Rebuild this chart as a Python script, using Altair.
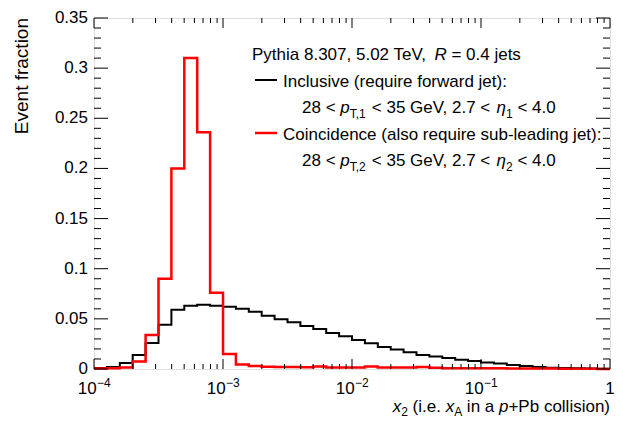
import altair as alt
import pandas as pd

FONT = "Liberation Sans"

# ---------------- data ----------------
# lower edges (log10 x2) of the 40 log-uniform bins between 1e-4 and 1
bin_lo_exp = [round(-4.0 + 0.1 * i, 1) for i in range(40)]

inclusive = [0.001, 0.002, 0.006, 0.014, 0.026, 0.044, 0.059, 0.063, 0.064, 0.063,
             0.062, 0.060, 0.057, 0.053, 0.0495, 0.0465, 0.043, 0.040, 0.036, 0.0326,
             0.0288, 0.0257, 0.022, 0.0195, 0.0167, 0.014, 0.0125, 0.011, 0.0093, 0.008,
             0.0065, 0.0055, 0.004, 0.003, 0.002, 0.0013, 0.001, 0.0007, 0.0005, 0.0003]

coincidence = [0.0005, 0.0007, 0.0015, 0.0075, 0.034, 0.090, 0.200, 0.310, 0.236, 0.076,
               0.015, 0.0045, 0.003, 0.0022, 0.002, 0.002, 0.0018, 0.0025, 0.0016, 0.0015,
               0.0015, 0.0025, 0.0015, 0.0015, 0.0015, 0.002, 0.0012, 0.0008, 0.0007, 0.0007,
               0.0008, 0.0007, 0.0005, 0.0005, 0.0005, 0.0004, 0.0003, 0.0002, 0.0002, 0.0001]

y_major = [0, 0.05, 0.1, 0.15, 0.2, 0.25, 0.3, 0.35]
y_labels = ["0", "0.05", "0.1", "0.15", "0.2", "0.25", "0.3", "0.35"]
y_minor = [round(0.01 * i, 2) for i in range(36) if i % 5]
x_major = [1e-4, 1e-3, 1e-2, 1e-1, 1.0]
x_minor = [k * 10.0 ** d for d in (-4, -3, -2, -1) for k in range(2, 10)]
x_label_pos = [1e-4, 1e-3, 1e-2, 1e-1]
x_label_exp = ["\u22124", "\u22123", "\u22122", "\u22121"]

W, H = 516, 351

# ---------------- helpers ----------------
AW = {' ': 278, '!': 278, '(': 333, ')': 333, '+': 584, ',': 278, '-': 333, '.': 278,
      ':': 278, '<': 584, '=': 584, '>': 584, '\u2212': 584, 'η': 556}
for d in "0123456789":
    AW[d] = 556
AW.update(dict(A=667, B=667, C=722, D=722, E=667, F=611, G=778, H=722, I=278, J=500,
               K=667, L=556, M=833, N=722, O=778, P=667, Q=778, R=722, S=667, T=611,
               U=722, V=667, W=944, X=667, Y=667, Z=611))
AW.update(dict(a=556, b=556, c=500, d=556, e=556, f=278, g=556, h=556, i=222, j=222,
               k=500, l=222, m=833, n=556, o=556, p=556, q=556, r=333, s=500, t=278,
               u=556, v=500, w=722, x=500, y=500, z=500))


def tw(s, fs):
    return sum(AW.get(ch, 556) for ch in s) * fs / 1000.0


def place(segs, x0, base, fs, anchor="left", sub_shift=0.3):
    pieces = []
    x = 0.0
    for text, ital, kind in segs:
        size = fs if kind == "" else round(fs * 0.7)
        dy = 0 if kind == "" else (sub_shift * fs if kind == "sub" else -0.42 * fs)
        lead = len(text) - len(text.lstrip(" "))
        pieces.append((x + tw(" " * lead, size), text.strip(" "), ital, size, dy))
        x += tw(text, size)
    start = x0 - x if anchor == "right" else x0
    return [dict(x=start + px, y=base + dy, text=t, italic=it, size=sz)
            for px, t, it, sz, dy in pieces if t]


FS = 17
rows = []
rows += place([("Pythia 8.307, 5.02 TeV, ", False, ""), ("R", True, ""), (" = 0.4 jets", False, "")],
              158, 42, FS)
rows += place([("Inclusive (require forward jet):", False, "")], 189, 68.5, FS)
rows += place([("28 < ", False, ""), ("p", True, ""), ("T,1", False, "sub"),
               (" < 35 GeV, 2.7 < ", False, ""), ("η", True, ""), ("1", False, "sub"),
               (" < 4.0", False, "")], 208, 95, FS)
rows += place([("Coincidence (also require sub-leading jet):", False, "")], 189, 121.5, FS)
rows += place([("28 < ", False, ""), ("p", True, ""), ("T,2", False, "sub"),
               (" < 35 GeV, 2.7 < ", False, ""), ("η", True, ""), ("2", False, "sub"),
               (" < 4.0", False, "")], 208, 148, FS)
rows += place([("x", True, ""), ("2", False, "sub"), (" (i.e. ", False, ""), ("x", True, ""),
               ("A", False, "sub"), (" in a ", False, ""), ("p", True, ""),
               ("+Pb collision)", False, "")], W, 394, FS, anchor="right", sub_shift=0.26)
txt = pd.DataFrame(rows)

xs = alt.Scale(type="log", domain=[1e-4, 1])
ys = alt.Scale(domain=[0, 0.35])


def hist_layer(vals, color, sw):
    d = pd.DataFrame({"x": [10 ** e for e in bin_lo_exp] + [1.0], "y": vals + [vals[-1]]})
    return alt.Chart(d).mark_line(interpolate="step-after", color=color, strokeWidth=sw).encode(
        x=alt.X("x:Q", scale=xs, axis=None),
        y=alt.Y("y:Q", scale=ys, axis=None),
    )


def xtick_layer(vals, length, top):
    d = pd.DataFrame({"x": vals})
    y0, y1 = (0, length) if top else (H, H - length)
    return alt.Chart(d).mark_rule(color="black", strokeWidth=1).encode(
        x=alt.X("x:Q", scale=xs, axis=None), y=alt.value(y0), y2=alt.value(y1))


def ytick_layer(vals, length, right):
    d = pd.DataFrame({"y": vals})
    x0, x1 = (W, W - length) if right else (0, length)
    return alt.Chart(d).mark_rule(color="black", strokeWidth=1).encode(
        y=alt.Y("y:Q", scale=ys, axis=None), x=alt.value(x0), x2=alt.value(x1))


ticks = [xtick_layer(x_major, 10, False), xtick_layer(x_minor, 5, False),
         xtick_layer(x_major, 10, True), xtick_layer(x_minor, 5, True),
         ytick_layer(y_major, 14, False), ytick_layer(y_minor, 7, False),
         ytick_layer(y_major, 14, True), ytick_layer(y_minor, 7, True)]

ylab = alt.Chart(pd.DataFrame({"y": y_major, "t": y_labels})).mark_text(
    font=FONT, fontSize=17, align="right", baseline="middle", color="black").encode(
    y=alt.Y("y:Q", scale=ys, axis=None), x=alt.value(-6), text="t:N")

lab_df = pd.DataFrame({"x": x_label_pos, "e": x_label_exp})
lab10 = alt.Chart(lab_df).mark_text(font=FONT, fontSize=17, align="right", dx=2.6,
                                    baseline="alphabetic", color="black").encode(
    x=alt.X("x:Q", scale=xs, axis=None), y=alt.value(376), text=alt.value("10"))
labexp = alt.Chart(lab_df).mark_text(font=FONT, fontSize=12, align="left", dx=3,
                                     baseline="alphabetic", color="black").encode(
    x=alt.X("x:Q", scale=xs, axis=None), y=alt.value(369), text="e:N")
lab1 = alt.Chart(pd.DataFrame({"x": [1.0], "t": ["1"]})).mark_text(
    font=FONT, fontSize=17, align="center", baseline="alphabetic", color="black").encode(
    x=alt.X("x:Q", scale=xs, axis=None), y=alt.value(376), text="t:N")

ytitle = alt.Chart(pd.DataFrame({"t": ["Event fraction"]})).mark_text(
    font=FONT, fontSize=19, angle=270, align="right", baseline="middle", color="black").encode(
    x=alt.value(-72), y=alt.value(0), text="t:N")


def text_layer(ital):
    d = txt[txt["italic"] == ital]
    return alt.Chart(d).mark_text(font=FONT, align="left", baseline="alphabetic", color="black",
                                  fontStyle="italic" if ital else "normal").encode(
        x=alt.X("x:Q", scale=None, axis=None),
        y=alt.Y("y:Q", scale=None, axis=None),
        text="text:N",
        size=alt.Size("size:Q", scale=None, legend=None))


leg_df = pd.DataFrame({"t": ["a"]})
leg_black = alt.Chart(leg_df).mark_rule(color="black", strokeWidth=2).encode(
    x=alt.value(161), x2=alt.value(183), y=alt.value(62))
leg_red = alt.Chart(leg_df).mark_rule(color="red", strokeWidth=2.5).encode(
    x=alt.value(161), x2=alt.value(183), y=alt.value(115))

chart = alt.layer(
    hist_layer(inclusive, "black", 2),
    hist_layer(coincidence, "red", 2.5),
    *ticks, ylab, lab10, labexp, lab1, ytitle,
    text_layer(False), text_layer(True), leg_black, leg_red,
).properties(
    width=W, height=H,
    autosize=alt.AutoSizeParams(type="none"),
    padding={"left": 86, "top": 10, "right": 5, "bottom": 52},
).configure_view(stroke="black", strokeWidth=1).configure(background="white")

chart.save("out.html", embed_options={"renderer": "svg", "actions": False})
